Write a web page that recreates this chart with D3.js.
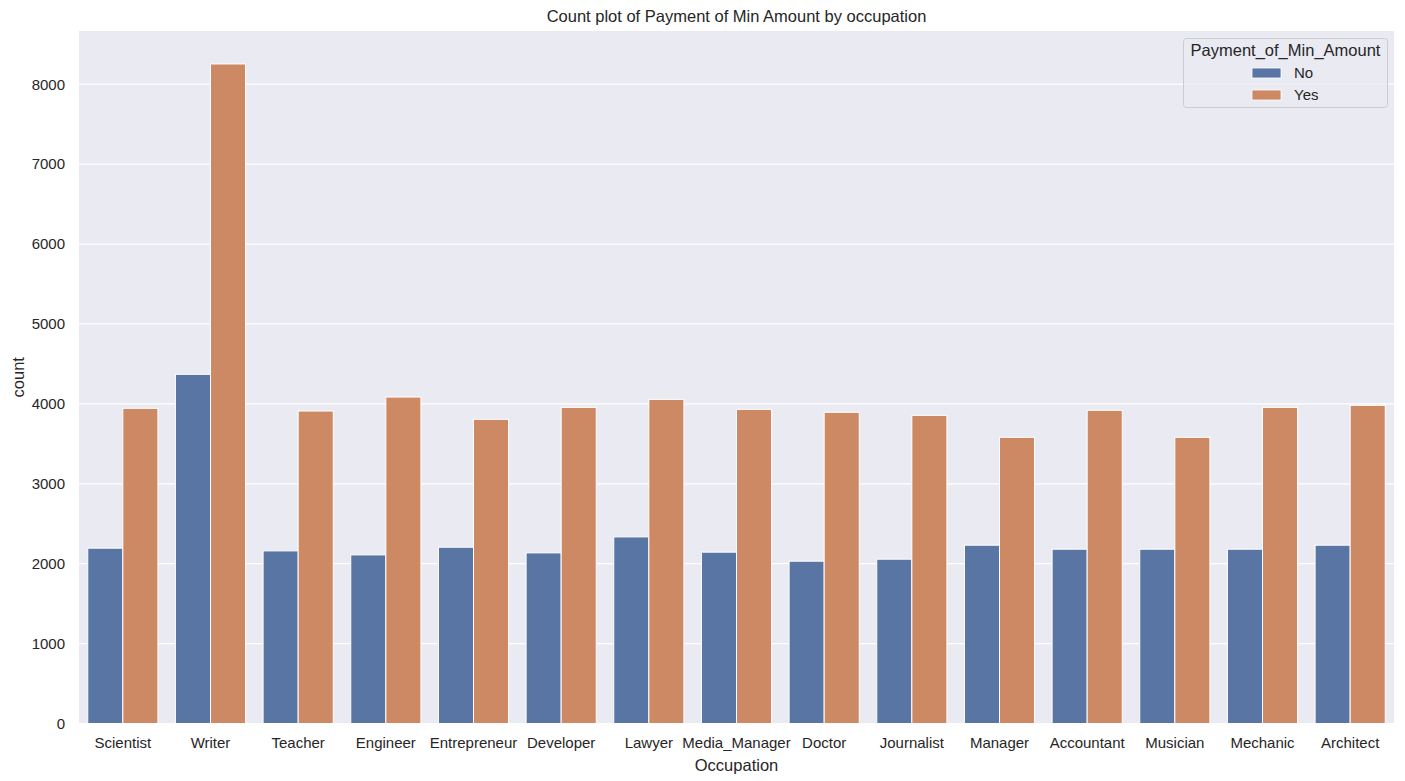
<!DOCTYPE html>
<html>
<head>
<meta charset="utf-8">
<script src="https://cdn.jsdelivr.net/npm/d3@7"></script>
<style>
  html, body { margin: 0; padding: 0; background: #ffffff; }
  svg text { font-family: "Liberation Sans", Arial, sans-serif; fill: #262626; }
</style>
</head>
<body>
<svg id="chart" width="1405" height="781"></svg>
<script>
const categories = ["Scientist","Writer","Teacher","Engineer","Entrepreneur","Developer","Lawyer","Media_Manager","Doctor","Journalist","Manager","Accountant","Musician","Mechanic","Architect"];
const hues = ["No","Yes"];
const countsNo  = [2194, 4369, 2160, 2110, 2206, 2135, 2335, 2144, 2031, 2056, 2231, 2181, 2181, 2181, 2231];
const countsYes = [3944, 8253, 3910, 4085, 3806, 3956, 4056, 3931, 3894, 3856, 3581, 3919, 3581, 3956, 3981];
const yTicks = [0,1000,2000,3000,4000,5000,6000,7000,8000];
const colors = ["#5975a4", "#cc8963"];

const svg = d3.select("#chart");
const pLeft = 79, pRight = 1394, pTop = 31, pBottom = 723.5;

const x = d3.scaleBand().domain(categories).range([pLeft, pRight]).padding(0);
const xSub = d3.scaleBand().domain(hues).range([0.1 * x.bandwidth(), 0.9 * x.bandwidth()]).padding(0);
const yMax = d3.max(countsNo.concat(countsYes)) * 1.05;
const y = d3.scaleLinear().domain([0, yMax]).range([pBottom, pTop]);

// background
svg.append("rect").attr("x", pLeft).attr("y", pTop).attr("width", pRight - pLeft).attr("height", pBottom - pTop).attr("fill", "#eaeaf2");

// grid
svg.append("g").selectAll("line").data(yTicks).join("line")
  .attr("x1", pLeft).attr("x2", pRight)
  .attr("y1", d => y(d)).attr("y2", d => y(d))
  .attr("stroke", "#ffffff").attr("stroke-width", 1.25);

// bars
const rows = categories.map((c, i) => ({cat: c, values: [countsNo[i], countsYes[i]]}));
const g = svg.append("g");
rows.forEach(r => {
  hues.forEach((h, j) => {
    g.append("rect")
      .attr("x", x(r.cat) + xSub(h))
      .attr("y", y(r.values[j]))
      .attr("width", xSub.bandwidth())
      .attr("height", y(0) - y(r.values[j]))
      .attr("fill", colors[j])
      .attr("stroke", "#ffffff")
      .attr("stroke-width", 1);
  });
});

// y axis
const yAxis = svg.append("g").attr("transform", `translate(${pLeft},0)`)
  .call(d3.axisLeft(y).tickValues(yTicks).tickSize(0).tickPadding(14).tickFormat(d3.format("d")));
yAxis.select(".domain").remove();
yAxis.selectAll("text").style("font-size", "15px").style("font-family", "'Liberation Sans', Arial, sans-serif").attr("fill", "#262626");

// x axis
const xAxis = svg.append("g").attr("transform", `translate(0,${pBottom})`)
  .call(d3.axisBottom(x).tickSize(0).tickPadding(14));
xAxis.select(".domain").remove();
xAxis.selectAll("text").style("font-size", "15px").style("font-family", "'Liberation Sans', Arial, sans-serif").attr("fill", "#262626");

// axis labels
svg.append("text").attr("x", (pLeft + pRight) / 2).attr("y", 771).attr("text-anchor", "middle")
  .style("font-size", "16.5px").text("Occupation");
svg.append("text").attr("transform", `translate(24,${(pTop + pBottom) / 2}) rotate(-90)`).attr("text-anchor", "middle")
  .style("font-size", "16.5px").text("count");

// title
svg.append("text").attr("x", (pLeft + pRight) / 2).attr("y", 22).attr("text-anchor", "middle")
  .style("font-size", "16.5px").text("Count plot of Payment of Min Amount by occupation");

// legend
const lg = svg.append("g");
lg.append("rect").attr("x", 1183.5).attr("y", 38.5).attr("width", 204).attr("height", 69).attr("rx", 3)
  .attr("fill", "#eaeaf2").attr("fill-opacity", 0.8).attr("stroke", "#cccccc").attr("stroke-width", 1);
lg.append("text").attr("x", 1285.5).attr("y", 56).attr("text-anchor", "middle").style("font-size", "16.5px").text("Payment_of_Min_Amount");
hues.forEach((h, j) => {
  lg.append("rect").attr("x", 1252).attr("y", 68 + j * 22).attr("width", 29).attr("height", 10)
    .attr("fill", colors[j]).attr("stroke", "#ffffff").attr("stroke-width", 0.8);
  lg.append("text").attr("x", 1294).attr("y", 78 + j * 22).style("font-size", "15px").text(h);
});
</script>
</body>
</html>
